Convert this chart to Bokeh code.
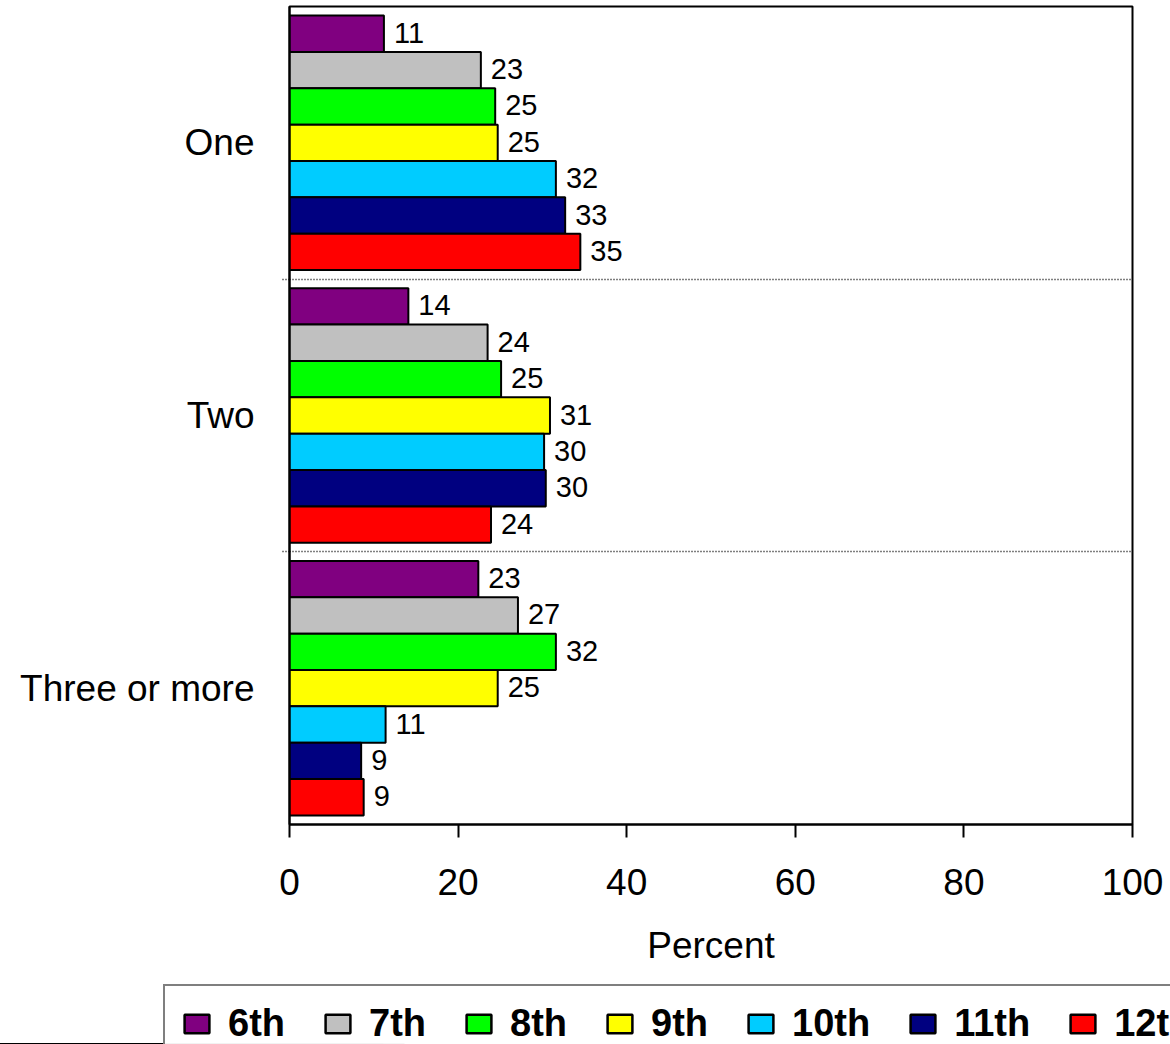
from bokeh.plotting import figure
from bokeh.models import (ColumnDataSource, Range1d, FixedTicker, Legend, LegendItem,
                          LabelSet)
from bokeh.core.properties import value
from bokeh.embed import file_html
from bokeh.resources import INLINE

# ---- data ----
groups = ["One", "Two", "Three or more"]
grades = ["6th", "7th", "8th", "9th", "10th", "11th", "12th"]
colors = ["#800080", "#C0C0C0", "#00FF00", "#FFFF00", "#00CCFF", "#000080", "#FF0000"]

one_vals = [11.2, 22.7, 24.4, 24.7, 31.6, 32.7, 34.5]
two_vals = [14.1, 23.5, 25.1, 30.9, 30.2, 30.4, 23.9]
three_vals = [22.4, 27.1, 31.6, 24.7, 11.4, 8.5, 8.8]

one_labels = ["11", "23", "25", "25", "32", "33", "35"]
two_labels = ["14", "24", "25", "31", "30", "30", "24"]
three_labels = ["23", "27", "32", "25", "11", "9", "9"]

x_ticks = [0, 20, 40, 60, 80, 100]

FONT = "Liberation Sans"

values_by_group = [one_vals, two_vals, three_vals]
labels_by_group = [one_labels, two_labels, three_labels]

bar_h = 1.0 / 7.5  # Excel gap width 50%

p = figure(width=1170, height=982, output_backend="svg", toolbar_location=None,
           x_range=Range1d(0, 100), y_range=Range1d(3, 0),
           min_border_left=289, min_border_right=38, min_border_top=6,
           min_border_bottom=158)
p.background_fill_color = "white"
p.border_fill_color = "white"
p.outline_line_color = "black"
p.outline_line_width = 2

# legend-only figure below the chart (its bars lie outside its visible range)
lg = figure(width=1170, height=62, output_backend="svg", toolbar_location=None,
            x_range=Range1d(0, 100), y_range=Range1d(50, 51),
            x_axis_location=None, y_axis_location=None,
            min_border_left=0, min_border_right=0, min_border_top=0, min_border_bottom=0)
lg.outline_line_color = None
lg.xgrid.grid_line_color = None
lg.ygrid.grid_line_color = None
lg.background_fill_color = "white"
lg.border_fill_color = "white"

legend_renderers = []
for i, (g, c) in enumerate(zip(grades, colors)):
    ys = [gi + 0.5 + (i - 3) * bar_h for gi in range(len(groups))]
    xs = [values_by_group[gi][i] for gi in range(len(groups))]
    labs = [labels_by_group[gi][i] for gi in range(len(groups))]
    src = ColumnDataSource(dict(y=ys, x=xs, lab=labs))
    p.hbar(y="y", right="x", left=0, height=bar_h, source=src,
           fill_color=c, line_color="black", line_width=2)
    ls = LabelSet(x="x", y="y", text="lab", source=src, x_offset=10, y_offset=1,
                  text_baseline="middle", text_align="left",
                  text_font=value(FONT), text_font_size=value("29px"),
                  text_color="black")
    p.add_layout(ls)
    lr = lg.hbar(y="y", right="x", left=0, height=bar_h, source=src,
                 fill_color=c, line_color="black", line_width=2.5)
    legend_renderers.append(lr)

# x axis
p.xaxis.ticker = FixedTicker(ticks=x_ticks)
p.xaxis.axis_label = "Percent"
p.xaxis.axis_label_text_font = FONT
p.xaxis.axis_label_text_font_size = "37px"
p.xaxis.axis_label_text_font_style = "normal"
p.xaxis.axis_label_text_color = "black"
p.xaxis.axis_label_standoff = 27
p.xaxis.major_label_text_font = FONT
p.xaxis.major_label_text_font_size = "37px"
p.xaxis.major_label_text_color = "black"
p.xaxis.major_label_standoff = 31
p.xaxis.major_tick_in = 0
p.xaxis.major_tick_out = 13
p.xaxis.major_tick_line_width = 2
p.xaxis.minor_tick_line_color = None
p.xaxis.axis_line_width = 2
p.xaxis.axis_line_color = "black"

# y axis
p.yaxis.ticker = FixedTicker(ticks=[0.5, 1.5, 2.5], minor_ticks=[1, 2])
p.yaxis.major_label_overrides = {0.5: groups[0], 1.5: groups[1], 2.5: groups[2]}
p.yaxis.major_label_text_font = FONT
p.yaxis.major_label_text_font_size = "37px"
p.yaxis.major_label_text_color = "black"
p.yaxis.major_label_standoff = 28
p.yaxis.major_tick_in = 0
p.yaxis.major_tick_out = 0
p.yaxis.minor_tick_in = 0
p.yaxis.minor_tick_out = 7
p.yaxis.minor_tick_line_dash = "1 2"
p.yaxis.minor_tick_line_width = 1.5
p.yaxis.axis_line_width = 2
p.yaxis.axis_line_color = "black"

p.xgrid.grid_line_color = None
p.ygrid.ticker = FixedTicker(ticks=[1, 2])
p.ygrid.grid_line_color = "black"
p.ygrid.grid_line_dash = "1 2"
p.ygrid.grid_line_width = 1.5

legend = Legend(items=[LegendItem(label=g, renderers=[r]) for g, r in zip(grades, legend_renderers)],
                orientation="horizontal", location=(163, -19))
legend.label_text_font = FONT
legend.label_text_font_size = "38px"
legend.label_text_font_style = "bold"
legend.label_text_color = "black"
legend.glyph_width = 31
legend.glyph_height = 23
legend.label_standoff = 16
legend.spacing = 37
legend.padding = 16
legend.margin = 0
legend.border_line_color = "black"
legend.border_line_width = 2.5
legend.background_fill_color = "white"
lg.add_layout(legend, "center")

open("out.html", "w").write(file_html([p, lg], INLINE))
